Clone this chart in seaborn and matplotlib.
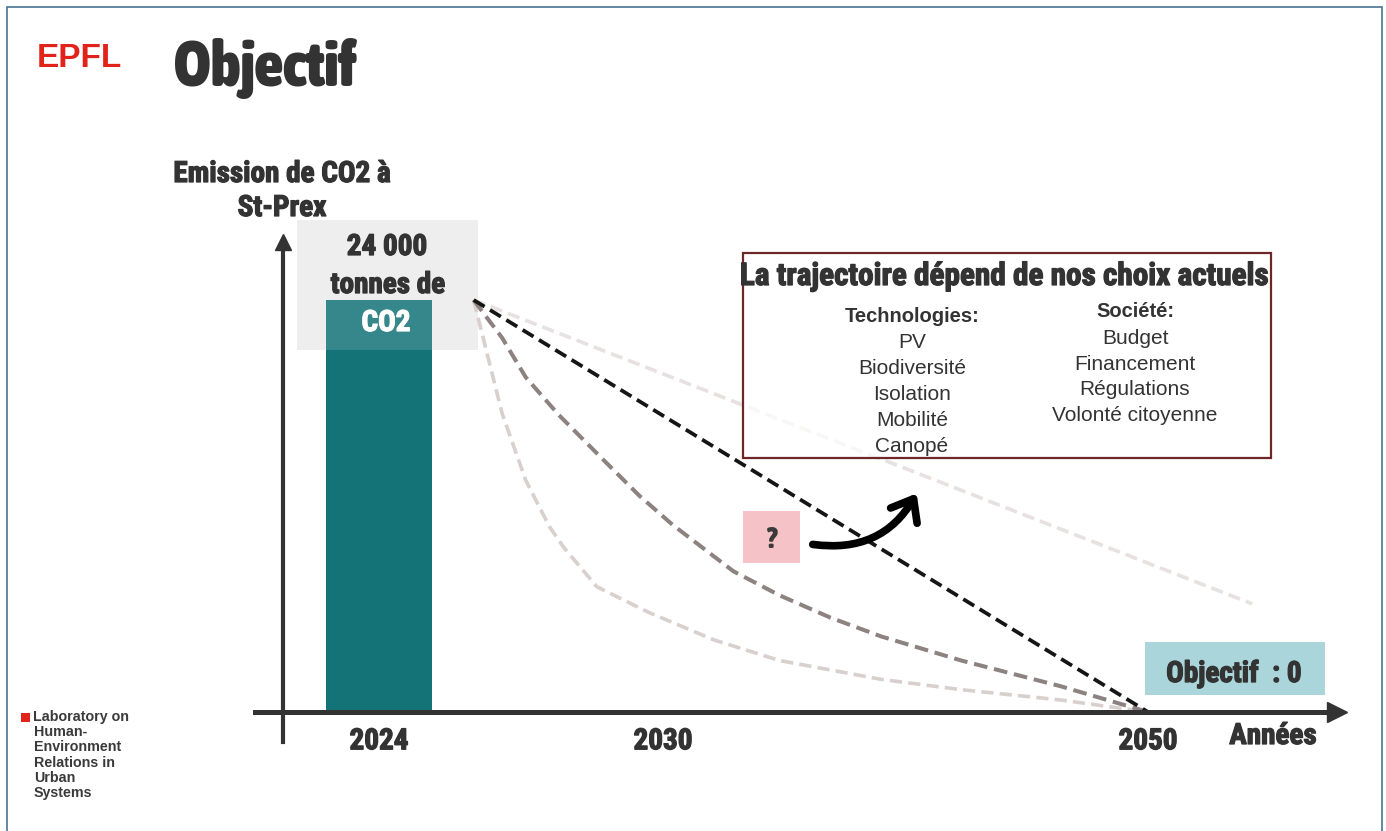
import os
import numpy as np
import pandas as pd
import matplotlib
matplotlib.use("Agg")
import matplotlib.pyplot as plt
import matplotlib.font_manager as fm
import matplotlib.patheffects as pe
from matplotlib.patches import Rectangle, FancyArrowPatch
import seaborn as sns

# ---------------- data ----------------
year_ticks = [2024, 2030, 2050]
year_labels = ["2024", "2030", "2050"]

bar_years = [2024]
bar_values = [24000]          # tonnes CO2

# trajectories (year, tonnes CO2)
lin_years = [2026.0, 2050.0]
lin_values = [24000, 0]

mid_years = [2026.0, 2026.6, 2027.1, 2027.8, 2028.7, 2029.5, 2030.4, 2032.9,
             2034.8, 2036.9, 2039.0, 2042.3, 2046.4, 2050.0]
mid_values = [24000, 21800, 19500, 17300, 14800, 12600, 10900, 8200,
              6800, 5500, 4400, 3000, 1500, 0]

fast_years = [2026.0, 2026.6, 2027.1, 2027.6, 2027.9, 2028.6, 2029.7, 2032.1,
              2034.8, 2039.0, 2042.3, 2046.4, 2050.0]
fast_values = [24000, 17400, 13500, 10800, 9600, 7300, 5800, 4200,
               3000, 1900, 1300, 700, 0]

slow_years = [2026.0, 2054.3]
slow_values = [24000, 6300]

tech_items = ["PV", "Biodiversité", "Isolation", "Mobilité", "Canopé"]
soc_items = ["Budget", "Financement", "Régulations", "Volonté citoyenne"]
lab_lines = ["Laboratory on", "Human-", "Environment", "Relations in", "Urban", "Systems"]

# ---------------- fonts ----------------
def _weight(f):
    w = f.weight
    if isinstance(w, str):
        w = fm.weight_dict.get(w, 400)
    return int(w)

def pick_condensed(target_weight):
    prefs = ["Roboto Condensed", "Noto Sans", "Liberation Sans Narrow", "Open Sans",
             "Roboto", "Inter", "Lato", "DejaVu Sans"]
    best, best_score = None, 1e9
    for f in fm.fontManager.ttflist:
        if f.style != "normal":
            continue
        nm = (f.name + " " + os.path.basename(f.fname)).lower()
        st = str(f.stretch).lower()
        if not ("condensed" in st or "condensed" in nm or "narrow" in nm):
            continue
        if "semi" in nm or "semi" in st:
            degree = 1
        elif "extra" in nm or "ultra" in nm or "extra" in st:
            degree = 3
        else:
            degree = 2
        fam_rank = 20
        for i, p in enumerate(prefs):
            if f.name.lower().startswith(p.lower()):
                fam_rank = i
                break
        score = abs(degree - 2) * 100 + abs(_weight(f) - target_weight) / 10 + fam_rank
        if score < best_score:
            best, best_score = f, score
    if best is None:
        return fm.FontProperties(family="DejaVu Sans", weight="bold")
    return fm.FontProperties(fname=best.fname)

COND = pick_condensed(700)
COND_HEAVY = pick_condensed(900)
ARIAL = "Liberation Sans"

# ---------------- figure ----------------
sns.set_theme(style="white")
W, H = 1386, 831
fig = plt.figure(figsize=(W / 100, H / 100), dpi=100)
fig.patch.set_facecolor("white")
ax = fig.add_axes([0, 0, 1, 1])
ax.set_facecolor("none")

# piecewise year axis (schematic spacing as on the slide)
YA = [2000, 2024, 2030, 2050, 2080]
PA = [379 - 24 * 47.333, 379, 663, 1148, 1148 + 30 * 24.25]
fwd = lambda x: np.interp(x, YA, PA)
inv = lambda p: np.interp(p, PA, YA)
ax.set_xscale("function", functions=(fwd, inv))
S = 24000 / 412.0
ydat = lambda py: (712 - py) * S
ax.set_xlim(inv(0), inv(W))
ax.set_ylim(ydat(H), ydat(0))

def px(x, y):
    return x / W, 1 - y / H

TA = ax.transAxes
DARK = "#333333"

def bold_fx(color, w=0.9):
    return [pe.withStroke(linewidth=w, foreground=color)]

# grey box behind bar
bx0, by0, bx1, by1 = 297, 220, 478, 350
ax.add_patch(Rectangle(px(bx0, by1), (bx1 - bx0) / W, (by1 - by0) / H,
                       transform=TA, facecolor="#ececec", edgecolor="none", zorder=1))
# bar
ax.bar(bar_years, bar_values, width=2.24, color="#137377", zorder=2, linewidth=0)
# light veil of the box over the bar top
ax.add_patch(Rectangle(px(bx0, by1), (bx1 - bx0) / W, (by1 - by0) / H,
                       transform=TA, facecolor="white", alpha=0.15, edgecolor="none", zorder=3))

# trajectories
df = pd.concat([
    pd.DataFrame({"year": slow_years, "co2": slow_values, "s": "slow"}),
    pd.DataFrame({"year": fast_years, "co2": fast_values, "s": "fast"}),
    pd.DataFrame({"year": mid_years, "co2": mid_values, "s": "mid"}),
    pd.DataFrame({"year": lin_years, "co2": lin_values, "s": "lin"}),
])
styles = {"slow": ("#e7e1df", 2.6), "fast": ("#d8d0cd", 2.6),
          "mid": ("#8c8280", 2.9), "lin": ("#151515", 2.7)}
for key, (col, lw) in styles.items():
    sub = df[df["s"] == key]
    sns.lineplot(data=sub, x="year", y="co2", ax=ax, color=col, linewidth=lw,
                 linestyle=(0, (3.4, 1.7)), sort=False, estimator=None, zorder=4,
                 legend=False)

# axes (spines with arrows)
for s in ["top", "right"]:
    ax.spines[s].set_visible(False)
ax.spines["left"].set_position(("data", float(inv(283))))
ax.spines["left"].set_bounds(ydat(742), ydat(246))
ax.spines["left"].set_linewidth(3.0)
ax.spines["left"].set_color(DARK)
ax.spines["bottom"].set_position(("data", 0))
ax.spines["bottom"].set_bounds(float(inv(255)), float(inv(1332)))
ax.spines["bottom"].set_linewidth(3.6)
ax.spines["bottom"].set_color(DARK)
ax.spines["left"].set_zorder(6)
ax.spines["bottom"].set_zorder(6)
ax.plot([float(inv(283))], [ydat(242)], marker="^", ms=11, color=DARK, clip_on=False, zorder=7)
ax.plot([float(inv(1337))], [0], marker=">", ms=14, color=DARK, clip_on=False, zorder=7)
ax.set_yticks([])
ax.set_xticks(year_ticks)
ax.set_xticklabels(year_labels)
ax.tick_params(axis="x", length=0, pad=11, colors=DARK)
for lab in ax.get_xticklabels():
    lab.set_fontproperties(COND)
    lab.set_fontsize(21)
    lab.set_path_effects(bold_fx(DARK))
ax.set_xlabel("")
ax.set_ylabel("")
ax.grid(False)

def T(x, y, s, size, fp=None, family=None, weight="normal", color=DARK, ha="center",
      va="baseline", z=8, heavy=False):
    kw = dict(transform=TA, ha=ha, va=va, color=color, zorder=z)
    if fp is not None:
        t = ax.text(*px(x, y), s, fontproperties=fp, **kw)
        t.set_fontsize(size)
    else:
        t = ax.text(*px(x, y), s, family=family, fontweight=weight, fontsize=size, **kw)
    if heavy:
        t.set_path_effects(bold_fx(color))
    return t

# header
T(37, 67, "EPFL", 24, family=ARIAL, weight="bold", color="#e2231a", ha="left")
T(174, 86, "Objectif", 45, fp=COND_HEAVY, color=DARK, ha="left")

# y label
T(282, 182, "Emission de CO2 à", 21, fp=COND, heavy=True)
T(282, 216, "St-Prex", 21, fp=COND, heavy=True)

# bar annotation
T(387, 255, "24 000", 21, fp=COND, heavy=True)
T(388, 293, "tonnes de", 21, fp=COND, heavy=True)
T(386, 331, "CO2", 21, fp=COND, color="white", heavy=True)

# axis title
T(1273, 744, "Années", 21, fp=COND, heavy=True)

# trajectory box
ax.add_patch(Rectangle(px(743, 458), (1271 - 743) / W, (458 - 253) / H, transform=TA,
                       facecolor="white", alpha=0.75, edgecolor="none", zorder=5))
ax.add_patch(Rectangle(px(743, 458), (1271 - 743) / W, (458 - 253) / H, transform=TA,
                       facecolor="none", edgecolor="#6e2626", linewidth=1.6, zorder=6))
T(1005, 285, "La trajectoire dépend de nos choix actuels", 22.5, fp=COND, heavy=True)
T(912, 322, "Technologies:", 14.5, family=ARIAL, weight="bold")
for i, s in enumerate(tech_items):
    T(912, 348 + i * 26, s, 15, family=ARIAL)
T(1135, 317, "Société:", 14.5, family=ARIAL, weight="bold")
for i, s in enumerate(soc_items):
    T(1135, 344 + i * 25.7, s, 15, family=ARIAL)

# question box + arrow
ax.add_patch(Rectangle(px(743, 563), (800 - 743) / W, (563 - 511) / H, transform=TA,
                       facecolor="#f5c3c7", edgecolor="none", zorder=6))
T(772, 548, "?", 21, fp=COND_HEAVY, color="#3a3a3a")
arr = FancyArrowPatch(px(810, 544), px(918, 491), transform=TA,
                      connectionstyle="arc3,rad=0.35",
                      arrowstyle="->,head_length=0.7,head_width=0.55",
                      linewidth=5.5, color="black", zorder=8, mutation_scale=20,
                      capstyle="round", joinstyle="round")
ax.add_patch(arr)

# objective box
ax.add_patch(Rectangle(px(1145, 695), (1325 - 1145) / W, (695 - 642) / H, transform=TA,
                       facecolor="#a9d5db", edgecolor="none", zorder=6))
T(1234, 682, "Objectif  : 0", 21, fp=COND, heavy=True)

# lab footer
ax.add_patch(Rectangle(px(21, 722), 9 / W, 9 / H, transform=TA,
                       facecolor="#e2231a", edgecolor="none", zorder=6))
for i, s in enumerate(lab_lines):
    T(33 if i == 0 else 34, 721 + i * 15.2, s, 10.3, family=ARIAL, weight="bold", ha="left",
      color="#3a3a3a")

# slide border
ax.add_patch(Rectangle(px(7, H + 10), (1382 - 7) / W, (H + 3) / H, transform=TA,
                       facecolor="none", edgecolor="#4b7391", linewidth=1.2, zorder=9,
                       clip_on=False))

fig.savefig("out.png", dpi=100, facecolor="white")
